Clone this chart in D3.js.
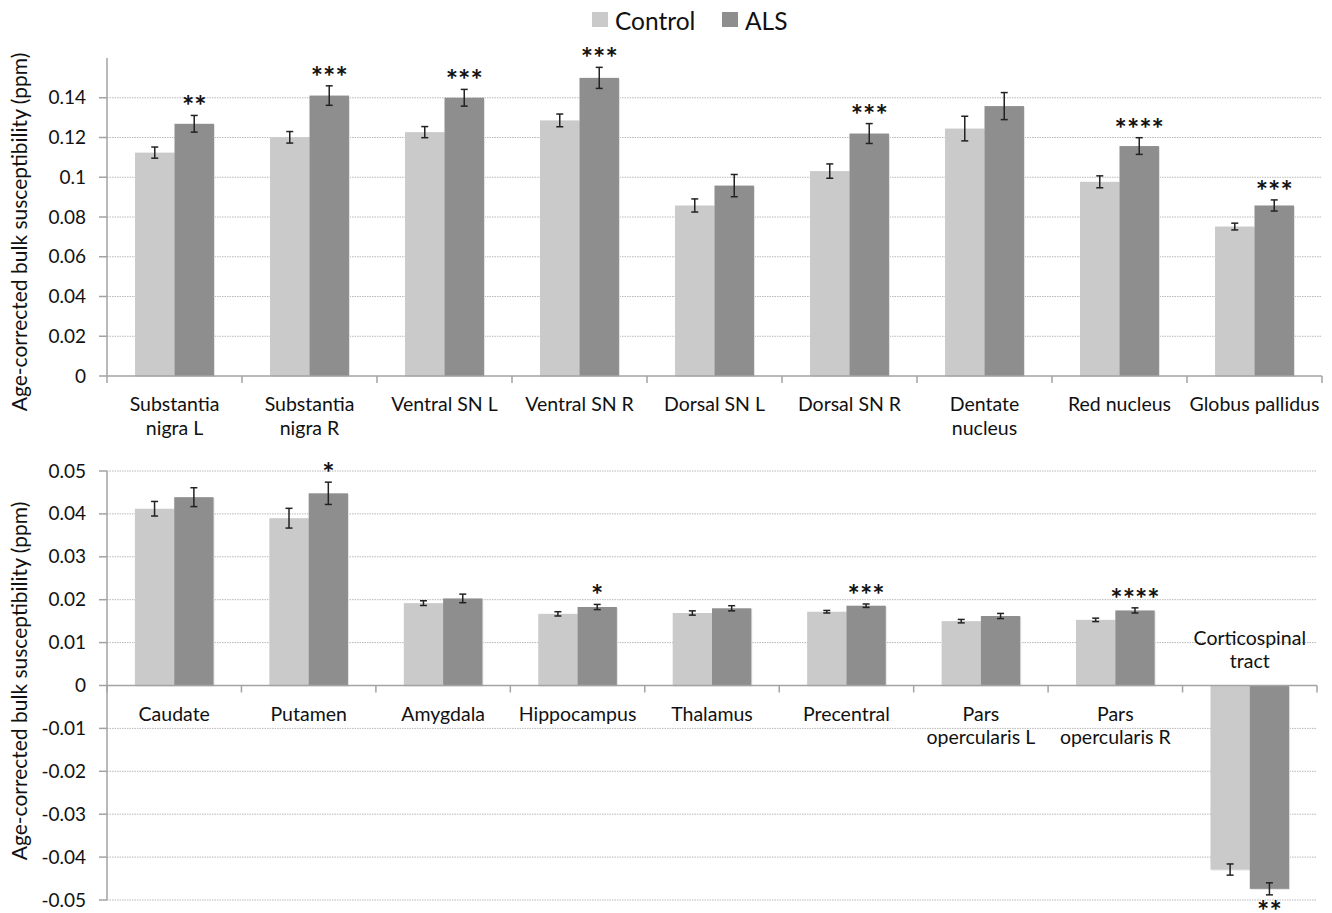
<!DOCTYPE html>
<html><head><meta charset="utf-8">
<script src="https://cdn.jsdelivr.net/npm/d3@7"></script>
<style>body{margin:0;background:#fff}svg{display:block;font-family:Lato,"Open Sans",sans-serif}</style>
</head><body><svg id="c" width="1332" height="913"></svg>
<script>
const series = ["Control","ALS"];
const topCategories = [["Substantia","nigra L"],["Substantia","nigra R"],["Ventral SN L"],["Ventral SN R"],["Dorsal SN L"],["Dorsal SN R"],["Dentate","nucleus"],["Red nucleus"],["Globus pallidus"]];
const topControl = [0.1124,0.1201,0.1227,0.1286,0.0858,0.1031,0.1245,0.0977,0.0752];
const topALS     = [0.1269,0.1411,0.1400,0.1500,0.0958,0.1220,0.1358,0.1157,0.0858];
const topControlErr = [0.0028,0.0029,0.0028,0.0032,0.0033,0.0036,0.0062,0.0030,0.0017];
const topALSErr     = [0.0042,0.0049,0.0042,0.0053,0.0056,0.0050,0.0068,0.0042,0.0028];
const topStars = ["**","***","***","***","","***","","****","***"];
const topTicks = [0,0.02,0.04,0.06,0.08,0.1,0.12,0.14];
const topTickLabels = ["0","0.02","0.04","0.06","0.08","0.1","0.12","0.14"];

const botCategories = [["Caudate"],["Putamen"],["Amygdala"],["Hippocampus"],["Thalamus"],["Precentral"],["Pars","opercularis L"],["Pars","opercularis R"],["Corticospinal","tract"]];
const botControl = [0.0412,0.0390,0.0192,0.0167,0.0169,0.0172,0.0150,0.0153,-0.0429];
const botALS     = [0.0439,0.0448,0.0203,0.0183,0.0180,0.0186,0.0162,0.0175,-0.0474];
const botControlErr = [0.0017,0.0023,0.00055,0.0005,0.0005,0.0003,0.0004,0.0004,0.0013];
const botALSErr     = [0.0022,0.0026,0.0010,0.0006,0.0006,0.0004,0.0006,0.0006,0.0014];
const botStars = ["","*","","*","","***","","****","**"];
const botTicks = [-0.05,-0.04,-0.03,-0.02,-0.01,0,0.01,0.02,0.03,0.04,0.05];
const botTickLabels = ["-0.05","-0.04","-0.03","-0.02","-0.01","0","0.01","0.02","0.03","0.04","0.05"];

const colors = {Control:"#cacaca", ALS:"#8e8e8e"};
const yTitle = "Age-corrected bulk susceptibility (ppm)";
const svg = d3.select("#c");
const axisColor = "#a3a3a3", gridColor = "#b8b8b8", textColor = "#111";

function panel(cfg){
  const g = svg.append("g");
  const x0 = d3.scaleBand().domain(d3.range(cfg.cats.length)).range([cfg.x0, cfg.x1]).padding(0);
  const x1 = d3.scaleBand().domain(series).range([0, x0.bandwidth()]).paddingInner(0).paddingOuter(0.71);
  const y = d3.scaleLinear().domain(cfg.domain).range(cfg.yrange);
  // gridlines
  g.selectAll(".grid").data(cfg.ticks.filter(t=>t!==0)).enter().append("line")
    .attr("x1",cfg.x0).attr("x2",cfg.x1).attr("y1",d=>y(d)).attr("y2",d=>y(d))
    .attr("stroke",gridColor).attr("stroke-width",1).attr("stroke-dasharray","1.5,1");
  // bars
  const data = [];
  cfg.cats.forEach((c,i)=>{
    data.push({i,s:"Control",v:cfg.ctrl[i],e:cfg.ctrlErr[i]});
    data.push({i,s:"ALS",v:cfg.als[i],e:cfg.alsErr[i]});
  });
  const bx = d=>x0(d.i)+x1(d.s);
  g.selectAll(".shadow").data(data).enter().append("rect")
    .attr("x",d=>bx(d)+1).attr("width",x1.bandwidth())
    .attr("y",d=>Math.min(y(d.v),y(0))+1).attr("height",d=>Math.abs(y(d.v)-y(0)))
    .attr("fill","#e4e4e4");
  g.selectAll(".bar").data(data).enter().append("rect")
    .attr("x",bx).attr("width",x1.bandwidth())
    .attr("y",d=>Math.min(y(d.v),y(0))).attr("height",d=>Math.abs(y(d.v)-y(0)))
    .attr("fill",d=>colors[d.s]);
  // error bars
  const eb = g.selectAll(".eb").data(data).enter().append("g")
    .attr("stroke","#222").attr("stroke-width",1.5);
  eb.append("line").attr("x1",d=>bx(d)+x1.bandwidth()/2).attr("x2",d=>bx(d)+x1.bandwidth()/2)
    .attr("y1",d=>y(d.v-d.e)).attr("y2",d=>y(d.v+d.e));
  [1,-1].forEach(sg=>{
    eb.append("line").attr("x1",d=>bx(d)+x1.bandwidth()/2-3.5).attr("x2",d=>bx(d)+x1.bandwidth()/2+3.5)
      .attr("y1",d=>y(d.v+sg*d.e)).attr("y2",d=>y(d.v+sg*d.e));
  });
  // stars
  g.selectAll(".star").data(cfg.stars.map((s,i)=>({s,i,v:cfg.als[i],e:cfg.alsErr[i]}))).enter().append("text")
    .attr("x",d=>x0(d.i)+x1("ALS")+x1.bandwidth()/2)
    .attr("y",d=>d.v>=0 ? y(d.v+d.e)+1 : y(d.v-d.e)+26)
    .attr("text-anchor","middle").attr("font-size",29).attr("font-weight",700).attr("fill",textColor)
    .text(d=>d.s);
  // y axis
  g.append("line").attr("x1",cfg.x0).attr("x2",cfg.x0).attr("y1",y(cfg.domain[0])).attr("y2",y(cfg.domain[1]))
    .attr("stroke",axisColor).attr("stroke-width",1.5);
  g.selectAll(".yt").data(cfg.ticks).enter().append("line")
    .attr("x1",cfg.x0-8).attr("x2",cfg.x0).attr("y1",d=>y(d)).attr("y2",d=>y(d))
    .attr("stroke",axisColor).attr("stroke-width",1.5);
  g.selectAll(".yl").data(cfg.ticks).enter().append("text")
    .attr("x",cfg.x0-21).attr("y",d=>y(d)+6.5).attr("text-anchor","end")
    .attr("font-size",19).attr("fill",textColor)
    .text((d,i)=>cfg.tickLabels[i]);
  // x axis
  g.append("line").attr("x1",cfg.x0).attr("x2",cfg.x1).attr("y1",y(0)).attr("y2",y(0))
    .attr("stroke",axisColor).attr("stroke-width",1.5);
  g.selectAll(".xt").data(d3.range(cfg.cats.length+1)).enter().append("line")
    .attr("x1",d=>cfg.x0+d*x0.step()).attr("x2",d=>cfg.x0+d*x0.step())
    .attr("y1",y(0)).attr("y2",y(0)+7).attr("stroke",axisColor).attr("stroke-width",1.5);
  // category labels
  cfg.cats.forEach((lines,i)=>{
    const above = cfg.ctrl[i] < 0;
    const t = g.append("text").attr("text-anchor","middle").attr("font-size",19.5).attr("fill",textColor);
    lines.forEach((ln,k)=>{
      const base = above ? y(0) - 41 : y(0) + 35;
      t.append("tspan").attr("x",x0(i)+x0.bandwidth()/2).attr("y",base + k*23.5).text(ln);
    });
  });
  // y title
  svg.append("text").attr("transform",`translate(27,${cfg.titleY}) rotate(-90)`)
    .attr("text-anchor","middle").attr("font-size",21).attr("fill",textColor).text(yTitle);
}

panel({cats:topCategories, ctrl:topControl, als:topALS, ctrlErr:topControlErr, alsErr:topALSErr,
  stars:topStars, ticks:topTicks, tickLabels:topTickLabels, domain:[0,0.16], yrange:[376,58],
  x0:107, x1:1322, titleY:232});
panel({cats:botCategories, ctrl:botControl, als:botALS, ctrlErr:botControlErr, alsErr:botALSErr,
  stars:botStars, ticks:botTicks, tickLabels:botTickLabels, domain:[-0.05,0.05], yrange:[900,471],
  x0:107, x1:1317, titleY:681});

// legend
const lg = svg.append("g");
const legX = [592, 722];
series.forEach((s,i)=>{
  lg.append("rect").attr("x",legX[i]).attr("y",12).attr("width",16).attr("height",15).attr("fill",colors[s]);
  lg.append("text").attr("x",legX[i]+23).attr("y",30).attr("font-size",24.5).attr("fill",textColor).text(s);
});
</script></body></html>
